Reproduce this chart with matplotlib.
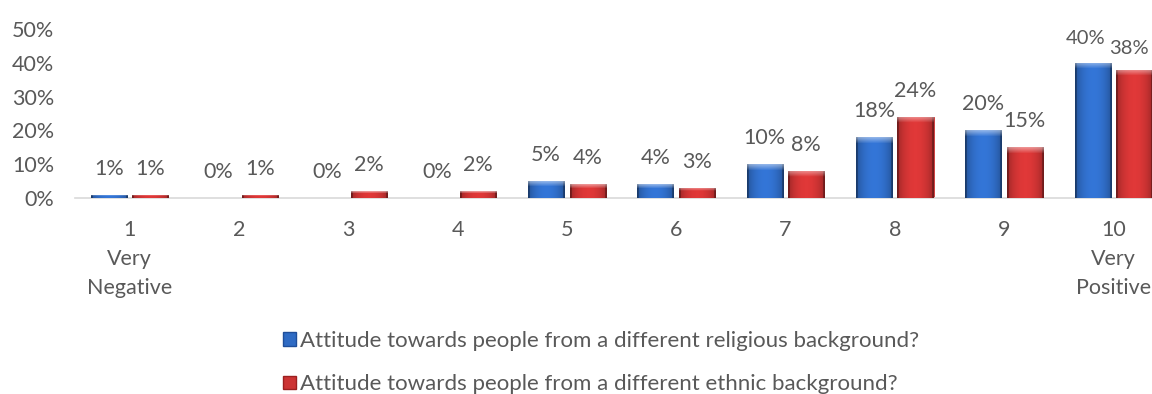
import numpy as np
import matplotlib
matplotlib.use("Agg")
import matplotlib.pyplot as plt
from matplotlib.patches import Patch
from matplotlib.colors import to_rgb

categories = ["1\nVery\nNegative", "2", "3", "4", "5", "6", "7", "8", "9", "10\nVery\nPositive"]
religious = [1, 0, 0, 0, 5, 4, 10, 18, 20, 40]
ethnic = [1, 1, 2, 2, 4, 3, 8, 24, 15, 38]
series_names = ["Attitude towards people from a different religious background?",
                "Attitude towards people from a different ethnic background?"]
yticks = [0, 10, 20, 30, 40, 50]

plt.rcParams['font.family'] = ['Lato', 'DejaVu Sans']
grey = "#595959"
blue = "#2f6bc4"
red = "#cc3333"
fs = 15.5

fig = plt.figure(figsize=(11.52, 3.94), dpi=100)
ax = fig.add_axes([75 / 1152, 1 - 198 / 394, 1093 / 1152, 169 / 394])

x = np.arange(len(categories))
w = 0.33
off = 0.19

def shade(base, n_rows):
    # bevel look: dark sides, lighter middle, bright rim along the top
    r, g, b = to_rgb(base)
    cols = np.linspace(0, 1, 40)
    prof = 0.72 + 0.38 * np.sin(np.pi * cols) ** 0.6
    prof[:2] = 0.55
    prof[-2:] = 0.55
    img = np.zeros((n_rows, 40, 3))
    for i, c in enumerate((r, g, b)):
        img[:, :, i] = np.clip(c * prof, 0, 1)
    cap = min(6, max(1, n_rows // 3))
    for k in range(cap):
        t = 0.45 * (1 - k / cap)
        img[k] = img[k] + (1 - img[k]) * t
    return img

px_per_unit = 169 / 50
last = len(categories) - 1
for vals, pos, col in ((religious, x - off, blue), (ethnic, x + off, red)):
    bars = ax.bar(pos, vals, width=w, color=col, edgecolor=col, linewidth=0.6, zorder=2)
    for i, (b, v) in enumerate(zip(bars, vals)):
        if v > 0:
            n = max(2, int(round(v * px_per_unit)))
            im = ax.imshow(shade(col, n), extent=(b.get_x(), b.get_x() + b.get_width(), 0, v),
                           aspect="auto", zorder=3, interpolation="bilinear")
            im.set_clip_path(b)
        # the last pair sits against the right edge, squeeze it a bit
        if i == last:
            dx, dy = (-7, 24) if col == blue else (-5, 21)
        else:
            dx, dy = 0, 26
        ax.annotate(f"{v}%", (b.get_x() + b.get_width() / 2, v), xytext=(dx, dy),
                    textcoords="offset pixels", ha="center", va="center",
                    fontsize=fs if i != last else 14.5, color=grey, annotation_clip=False)

ax.set_xlim(-0.5, len(categories) - 0.5)
ax.set_ylim(0, 50)
ax.set_xticks(x)
ax.set_xticklabels(categories, color=grey, fontsize=fs, linespacing=1.55)
ax.set_yticks(yticks)
ax.set_yticklabels([f"{t}%" for t in yticks], color=grey, fontsize=fs)
ax.tick_params(length=0)
ax.tick_params(axis="x", pad=16)
ax.tick_params(axis="y", pad=15)
for s in ("top", "right", "left"):
    ax.spines[s].set_visible(False)
ax.spines["bottom"].set_color("#d9d9d9")
ax.spines["bottom"].set_linewidth(1.2)

handles = [Patch(facecolor=blue, edgecolor="#1f4e9a"), Patch(facecolor=red, edgecolor="#9c1f1f")]
fig.legend(handles, series_names, loc="upper center", bbox_to_anchor=(0.522, 0.188),
           frameon=False, fontsize=16, labelcolor=grey, handlelength=0.55, handleheight=0.55,
           handletextpad=0.2, labelspacing=1.05, borderpad=0)

fig.savefig("out.png", dpi=100)
